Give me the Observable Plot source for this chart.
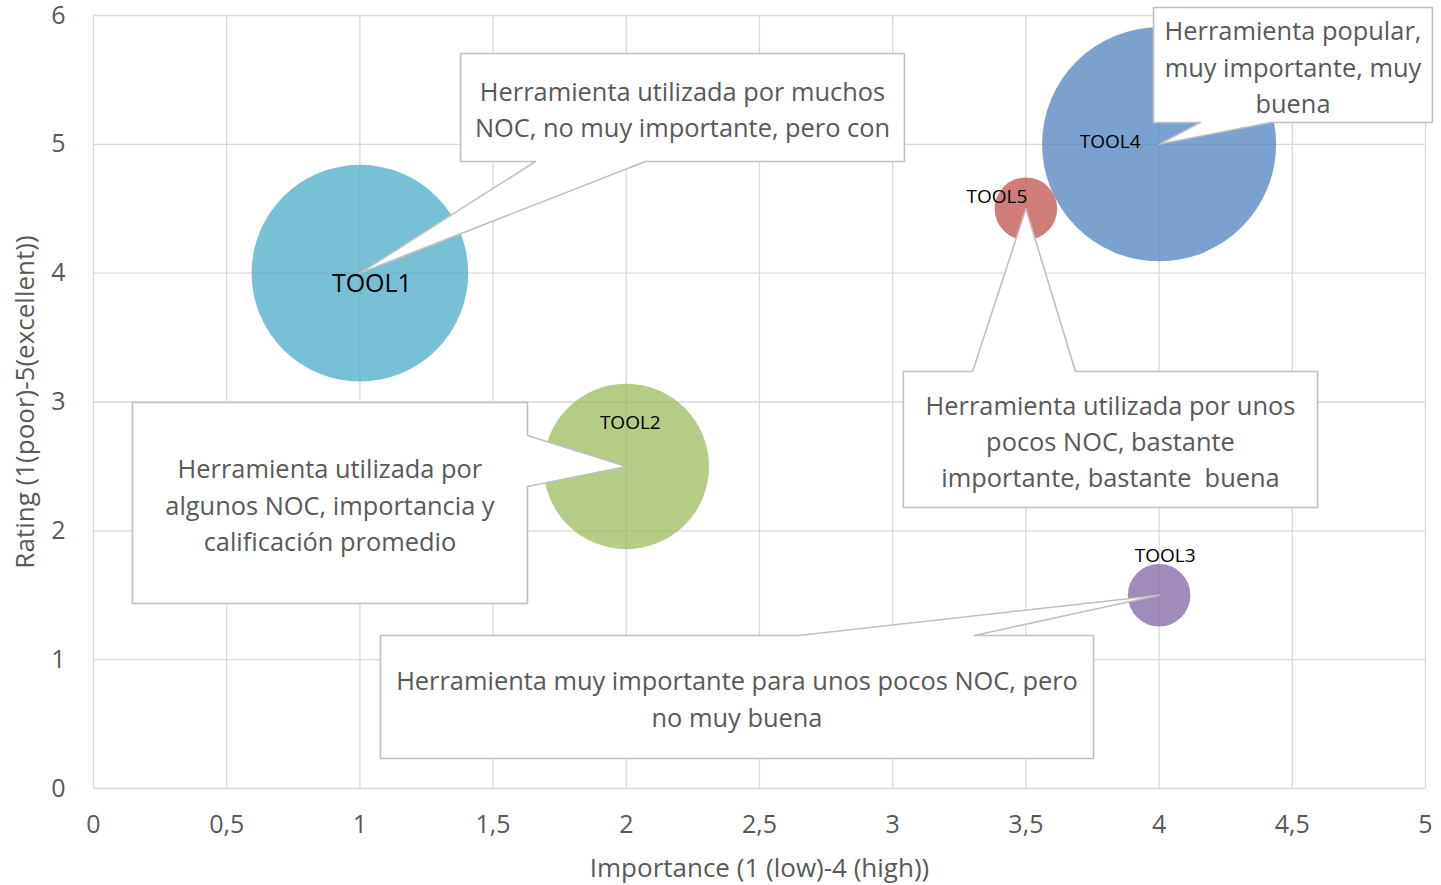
<!DOCTYPE html>
<html><head><meta charset="utf-8">
<script src="https://cdn.jsdelivr.net/npm/d3@7"></script>
<script src="https://cdn.jsdelivr.net/npm/@observablehq/plot@0.6"></script>
<style>body{margin:0;background:#fff} svg{display:block}</style>
</head><body><div id="chart"></div>
<script>
// ---- data ----
const names = ["TOOL1", "TOOL2", "TOOL3", "TOOL4", "TOOL5"];
const importance = [1, 2, 4, 4, 3.5];
const rating = [4, 2.5, 1.5, 5, 4.5];
const bubbleSize = [12, 7, 1, 14, 1];
const xTicks = [0, 0.5, 1, 1.5, 2, 2.5, 3, 3.5, 4, 4.5, 5];
const yTicks = [0, 1, 2, 3, 4, 5, 6];
const xTitle = "Importance (1 (low)-4 (high))";
const yTitle = "Rating (1(poor)-5(excellent))";
const calloutTargets = ["TOOL1", "TOOL4", "TOOL5", "TOOL2", "TOOL3"];
const calloutTexts = [
  "Herramienta utilizada por muchos\nNOC, no muy importante, pero con",
  "Herramienta popular,\nmuy importante, muy\nbuena",
  "Herramienta utilizada por unos\npocos NOC, bastante\nimportante, bastante  buena",
  "Herramienta utilizada por\nalgunos NOC, importancia y\ncalificación promedio",
  "Herramienta muy importante para unos pocos NOC, pero\nno muy buena"
];

// ---- styles / layout ----
const colors = ["#4BACC6", "#9BBB59", "#8064A2", "#4F81BD", "#C0504D"];
// callout boxes in data units: x1,x2 (left/right), yb,yt (bottom/top), wedge side and base
const calloutBoxes = [
  {x1: 1.378, x2: 3.044, yb: 4.867, yt: 5.705, side: "bottom", b1: 1.659, b2: 2.072},
  {x1: 3.979, x2: 5.026, yb: 5.170, yt: 6.062, side: "bottom", b1: 4.155, b2: 4.418},
  {x1: 3.040, x2: 4.595, yb: 2.181, yt: 3.237, side: "top", b1: 3.300, b2: 3.686},
  {x1: 0.146, x2: 1.629, yb: 1.436, yt: 2.996, side: "right", b1: 2.740, b2: 2.344},
  {x1: 1.077, x2: 3.754, yb: 0.233, yt: 1.188, side: "top", b1: 2.646, b2: 3.307}
];
const labelStyle = [
  {name: "TOOL1", dx: 12, dy: 11, size: 25},
  {name: "TOOL2", dx: 4, dy: -44, size: 19},
  {name: "TOOL3", dx: 6, dy: -39, size: 19},
  {name: "TOOL4", dx: -49, dy: -2, size: 19},
  {name: "TOOL5", dx: -29, dy: -12, size: 19}
];

const tools = names.map((n, i) => ({name: n, x: importance[i], y: rating[i], size: bubbleSize[i]}));
const callouts = calloutTargets.map((t, i) => ({target: t, text: calloutTexts[i], ...calloutBoxes[i]}));

function calloutPoly(c) {
  const t = tools.find(d => d.name === c.target);
  const A = {x: t.x, y: t.y};
  const p = [{x: c.x1, y: c.yt}];
  if (c.side === "top") p.push({x: c.b1, y: c.yt}, A, {x: c.b2, y: c.yt});
  p.push({x: c.x2, y: c.yt});
  if (c.side === "right") p.push({x: c.x2, y: c.b1}, A, {x: c.x2, y: c.b2});
  p.push({x: c.x2, y: c.yb});
  if (c.side === "bottom") p.push({x: c.b2, y: c.yb}, A, {x: c.b1, y: c.yb});
  p.push({x: c.x1, y: c.yb});
  return p.map(q => ({...q, id: c.target}));
}
const polys = callouts.flatMap(calloutPoly);

const textColor = "#595959";
const font = "'Open Sans', sans-serif";

const chart = Plot.plot({
  width: 1441, height: 885,
  marginLeft: 93, marginRight: 16, marginTop: 15, marginBottom: 97,
  style: {fontFamily: font, background: "#fff", overflow: "visible"},
  x: {domain: [0, 5]},
  y: {domain: [0, 6]},
  r: {type: "sqrt", domain: [0, 14], range: [0, 117]},
  color: {domain: names, range: colors},
  marks: [
    Plot.gridX(xTicks, {stroke: "#D9D9D9", strokeOpacity: 1, strokeWidth: 1.3}),
    Plot.gridY(yTicks, {stroke: "#D9D9D9", strokeOpacity: 1, strokeWidth: 1.3}),
    Plot.axisX({ticks: xTicks, tickSize: 0, tickPadding: 27, fontSize: 25, fill: textColor,
      tickFormat: d => String(d).replace(".", ","), label: null}),
    Plot.axisY({ticks: yTicks, tickSize: 0, tickPadding: 28, fontSize: 25, fill: textColor,
      tickFormat: d => String(d), label: null}),
    Plot.text([xTitle], {frameAnchor: "bottom", dy: 88, fontSize: 26, fill: textColor}),
    Plot.text([yTitle], {frameAnchor: "left", textAnchor: "middle", dx: -68, rotate: -90, fontSize: 26, fill: textColor}),
    Plot.dot(tools, {x: "x", y: "y", r: "size", fill: "name", fillOpacity: 0.75}),
    Plot.line(polys, {x: "x", y: "y", z: "id", curve: "linear-closed", fill: "white", stroke: "#BFBFBF", strokeWidth: 1.6}),
    Plot.text(callouts, {x: d => (d.x1 + d.x2) / 2, y: d => (d.yb + d.yt) / 2, text: "text",
      fontSize: 25.4, lineHeight: 1.42, fill: textColor}),
    ...labelStyle.map(o => Plot.text(tools.filter(d => d.name === o.name),
      {x: "x", y: "y", text: "name", dx: o.dx, dy: o.dy, fontSize: o.size, fill: "#000"}))
  ]
});
document.getElementById("chart").append(chart);
</script>
</body></html>
